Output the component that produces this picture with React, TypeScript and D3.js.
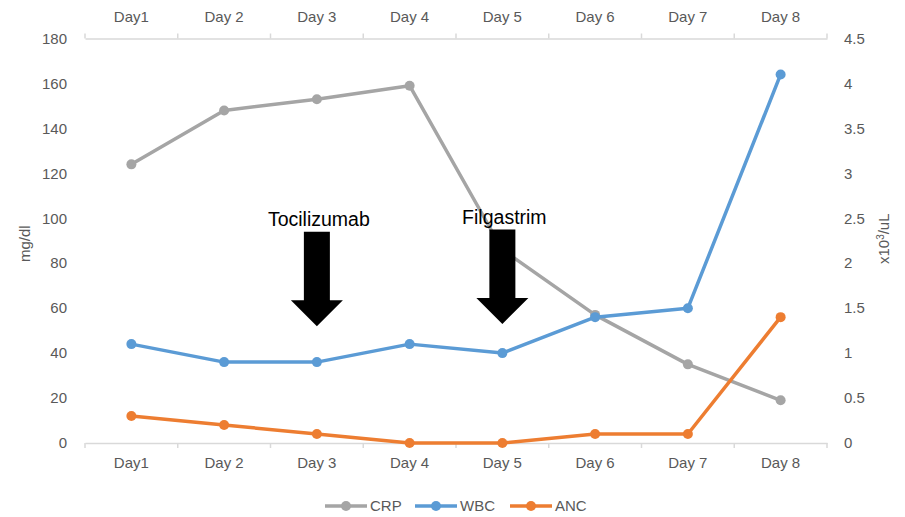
import React, { useEffect, useRef } from 'react';
import * as d3 from 'd3';

const days = ['Day1', 'Day 2', 'Day 3', 'Day 4', 'Day 5', 'Day 6', 'Day 7', 'Day 8'];
const crp = [124, 148, 153, 159, 86, 57, 35, 19];
const wbc = [1.1, 0.9, 0.9, 1.1, 1.0, 1.4, 1.5, 4.1];
const anc = [0.3, 0.2, 0.1, 0, 0, 0.1, 0.1, 1.4];
const leftTicks = [0, 20, 40, 60, 80, 100, 120, 140, 160, 180];
const rightTicks = [0, 0.5, 1, 1.5, 2, 2.5, 3, 3.5, 4, 4.5];
const annotations = [
  { day: 'Day 3', label: 'Tocilizumab', top: 94, tip: 52 },
  { day: 'Day 5', label: 'Filgastrim', top: 95, tip: 53 },
];

const W = 905;
const H = 517;
const FONT = '"Liberation Sans", "Open Sans", sans-serif';
const FS = '15px';

const App = () => {
  const ref = useRef<SVGSVGElement>(null);

  useEffect(() => {
    const svg = d3.select(ref.current);
    svg.selectAll('*').remove();
    svg.attr('width', W).attr('height', H).style('background', '#fff');

    const margin = { top: 38.5, right: 78, bottom: 74, left: 85 };
    const innerW = W - margin.left - margin.right;
    const innerH = H - margin.top - margin.bottom;

    const x = d3.scaleBand().domain(days).range([0, innerW]);
    const yL = d3.scaleLinear().domain([0, 180]).range([innerH, 0]);
    const yR = d3.scaleLinear().domain([0, 4.5]).range([innerH, 0]);
    const cx = (d: string) => (x(d) as number) + x.bandwidth() / 2;

    const g = svg.append('g').attr('transform', `translate(${margin.left},${margin.top})`);

    // category axes, bottom and top
    const styleAxis = (sel: any) => {
      sel.select('.domain').attr('stroke', '#d9d9d9').attr('stroke-width', 1.5);
      sel.selectAll('.tick line').remove();
      sel.selectAll('text').attr('fill', '#595959').style('font-size', FS).style('font-family', FONT);
    };
    const bottom = g.append('g')
      .attr('transform', `translate(0,${innerH})`)
      .call(d3.axisBottom(x).tickSize(0).tickPadding(14).tickSizeOuter(0));
    styleAxis(bottom);
    const top = g.append('g')
      .call(d3.axisTop(x).tickSize(0).tickPadding(17).tickSizeOuter(0));
    styleAxis(top);

    // band boundary ticks
    const bounds = days.map(d => x(d) as number).concat([innerW]);
    g.selectAll('.tb').data(bounds).enter().append('line')
      .attr('x1', d => d).attr('x2', d => d).attr('y1', innerH).attr('y2', innerH + 5)
      .attr('stroke', '#d9d9d9').attr('stroke-width', 1.5);
    g.selectAll('.tt').data(bounds).enter().append('line')
      .attr('x1', d => d).attr('x2', d => d).attr('y1', 0).attr('y2', -5)
      .attr('stroke', '#d9d9d9').attr('stroke-width', 1.5);

    // value axes (labels only)
    g.selectAll('.lt').data(leftTicks).enter().append('text')
      .attr('x', -18).attr('y', d => yL(d)).attr('dy', '0.35em')
      .attr('text-anchor', 'end').attr('fill', '#595959')
      .style('font-size', FS).style('font-family', FONT)
      .text(d => d);
    g.selectAll('.rt').data(rightTicks).enter().append('text')
      .attr('x', innerW + 17).attr('y', d => yR(d)).attr('dy', '0.35em')
      .attr('text-anchor', 'start').attr('fill', '#595959')
      .style('font-size', FS).style('font-family', FONT)
      .text(d => d);

    svg.append('text')
      .attr('transform', `translate(30,${margin.top + innerH / 2 + 3}) rotate(-90)`)
      .attr('text-anchor', 'middle').attr('fill', '#595959')
      .style('font-size', FS).style('font-family', FONT)
      .text('mg/dl');
    const rl = svg.append('text')
      .attr('transform', `translate(889,${margin.top + innerH / 2 - 2}) rotate(-90)`)
      .attr('text-anchor', 'middle').attr('fill', '#595959')
      .style('font-size', FS).style('font-family', FONT);
    rl.append('tspan').text('x10');
    rl.append('tspan').attr('dy', -5).style('font-size', '10px').text('3');
    rl.append('tspan').attr('dy', 5).text('/uL');

    // series
    const series = [
      { name: 'CRP', values: crp, scale: yL, color: '#a5a5a5' },
      { name: 'WBC', values: wbc, scale: yR, color: '#5b9bd5' },
      { name: 'ANC', values: anc, scale: yR, color: '#ed7d31' },
    ];
    series.forEach(s => {
      const line = d3.line<number>()
        .x((_, i) => cx(days[i]))
        .y(v => s.scale(v));
      g.append('path').datum(s.values)
        .attr('d', line).attr('fill', 'none')
        .attr('stroke', s.color).attr('stroke-width', 3.5)
        .attr('stroke-linejoin', 'round');
      g.selectAll(null).data(s.values).enter().append('circle')
        .attr('cx', (_, i) => cx(days[i])).attr('cy', v => s.scale(v))
        .attr('r', 5).attr('fill', s.color);
    });

    // annotation arrows
    annotations.forEach(a => {
      const ax = cx(a.day);
      const yTop = yL(a.top);
      const yTip = yL(a.tip);
      const headY = yTip - 26;
      const sw = 13;
      const hw = 26;
      g.append('path')
        .attr('d', `M${ax - sw},${yTop} L${ax + sw},${yTop} L${ax + sw},${headY} L${ax + hw},${headY} L${ax},${yTip} L${ax - hw},${headY} L${ax - sw},${headY} Z`)
        .attr('fill', '#000');
      g.append('text')
        .attr('x', ax + 2).attr('y', yTop - 6)
        .attr('text-anchor', 'middle').attr('fill', '#000')
        .style('font-size', '19.5px').style('font-family', FONT)
        .text(a.label);
    });

    // legend
    const legend = svg.append('g').attr('transform', 'translate(325,506)');
    const legX = [0, 90, 185];
    series.forEach((s, i) => {
      const lg = legend.append('g').attr('transform', `translate(${legX[i]},0)`);
      lg.append('line').attr('x1', 0).attr('x2', 42).attr('y1', 0).attr('y2', 0)
        .attr('stroke', s.color).attr('stroke-width', 3.5);
      lg.append('circle').attr('cx', 21).attr('cy', 0).attr('r', 5).attr('fill', s.color);
      lg.append('text').attr('x', 45).attr('y', 0).attr('dy', '0.35em')
        .attr('fill', '#595959').style('font-size', FS).style('font-family', FONT)
        .text(s.name);
    });
  }, []);

  return <svg ref={ref} style={{ display: 'block', position: 'absolute', left: 0, top: 0 }}></svg>;
};

export default App;
